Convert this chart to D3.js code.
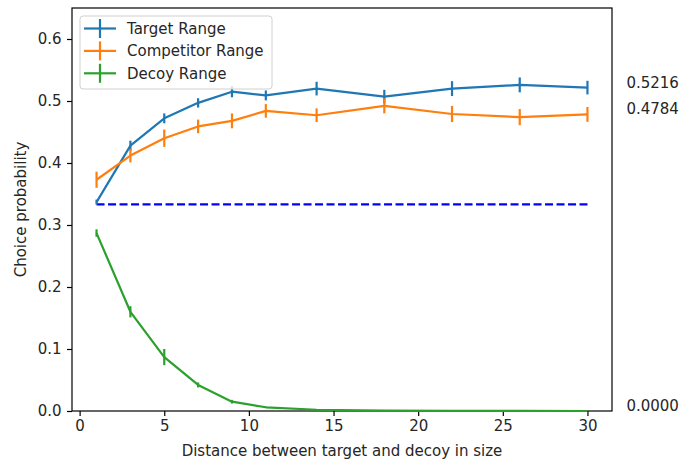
<!DOCTYPE html>
<html lang="en">
<head>
    <meta charset="UTF-8">
    <title>Choice probability vs distance</title>
    <script src="https://d3js.org/d3.v7.min.js"></script>
    <style>
        body { margin: 0; background: white; }
        svg text { font-family: "DejaVu Sans", sans-serif; fill: #262626; }
    </style>
</head>
<body>
<div id="chart"></div>
<script>
    // data
    var distances = [1, 3, 5, 7, 9, 11, 14, 18, 22, 26, 30];
    var targetMean = [0.337, 0.428, 0.472, 0.497, 0.515, 0.509, 0.520, 0.507, 0.520, 0.526, 0.5216];
    var targetErr = [0.004, 0.008, 0.008, 0.0075, 0.009, 0.008, 0.011, 0.011, 0.012, 0.012, 0.011];
    var competitorMean = [0.373, 0.412, 0.440, 0.459, 0.468, 0.484, 0.477, 0.492, 0.479, 0.474, 0.4784];
    var competitorErr = [0.013, 0.011, 0.014, 0.011, 0.012, 0.011, 0.011, 0.012, 0.013, 0.013, 0.012];
    var decoyMean = [0.287, 0.160, 0.087, 0.042, 0.015, 0.006, 0.002, 0.0005, 0.0002, 0.0001, 0.0];
    var decoyErr = [0.006, 0.009, 0.013, 0.004, 0.003, 0.001, 0.001, 0, 0, 0, 0];
    var chanceLevel = 1 / 3;
    var seriesNames = ["Target Range", "Competitor Range", "Decoy Range"];
    var seriesColors = ["#1f77b4", "#ff7f0e", "#2ca02c"];
    var endLabels = ["0.5216", "0.4784", "0.0000"];
    var yTicks = [0, 0.1, 0.2, 0.3, 0.4, 0.5, 0.6];
    var xTicks = [0, 5, 10, 15, 20, 25, 30];

    var margin = {top: 8, right: 67, bottom: 51, left: 72},
        width = 679 - margin.left - margin.right,
        height = 462 - margin.top - margin.bottom;
    var fontSize = 15;

    var svg = d3.select("#chart")
        .append("svg")
        .attr("width", 679)
        .attr("height", 462)
        .append("g")
        .attr("transform", "translate(" + margin.left + "," + margin.top + ")");

    var x = d3.scaleLinear().domain([-0.45, 31.45]).range([0, width]);
    var y = d3.scaleLinear().domain([0, 0.65]).range([height, 0]);

    // axes
    var xAxis = svg.append("g")
        .attr("transform", "translate(0," + height + ")")
        .call(d3.axisBottom(x).tickValues(xTicks).tickSize(5).tickPadding(4.5).tickFormat(d3.format("d")));
    var yAxis = svg.append("g")
        .call(d3.axisLeft(y).tickValues(yTicks).tickSize(5).tickPadding(5.5).tickFormat(d3.format(".1f")));
    [xAxis, yAxis].forEach(function (a) {
        a.select(".domain").remove();
        a.selectAll("line").attr("stroke", "#000").attr("stroke-width", 1.2);
        a.selectAll("text").style("font-size", fontSize + "px").attr("fill", "#262626")
            .style("font-family", "DejaVu Sans, sans-serif");
    });

    // frame
    svg.append("rect")
        .attr("width", width)
        .attr("height", height)
        .attr("fill", "none")
        .attr("stroke", "#000")
        .attr("stroke-width", 1.2);

    // chance line
    svg.append("line")
        .attr("x1", x(distances[0]))
        .attr("x2", x(distances[distances.length - 1]))
        .attr("y1", y(chanceLevel))
        .attr("y2", y(chanceLevel))
        .attr("stroke", "#0000ff")
        .attr("stroke-width", 2.2)
        .attr("stroke-dasharray", "8,3.5");

    var series = [
        {mean: targetMean, err: targetErr},
        {mean: competitorMean, err: competitorErr},
        {mean: decoyMean, err: decoyErr}
    ];

    var line = d3.line()
        .x(function (d) { return x(d[0]); })
        .y(function (d) { return y(d[1]); });

    series.forEach(function (s, i) {
        var pts = distances.map(function (d, j) { return [d, s.mean[j], s.err[j]]; });
        svg.append("path")
            .datum(pts)
            .attr("fill", "none")
            .attr("stroke", seriesColors[i])
            .attr("stroke-width", 2.2)
            .attr("stroke-linejoin", "round")
            .attr("d", line);
        svg.append("g").selectAll("line")
            .data(pts)
            .enter().append("line")
            .attr("x1", function (d) { return x(d[0]); })
            .attr("x2", function (d) { return x(d[0]); })
            .attr("y1", function (d) { return y(d[1] - d[2]); })
            .attr("y2", function (d) { return y(d[1] + d[2]); })
            .attr("stroke", seriesColors[i])
            .attr("stroke-width", 2.2);
        // final value labels
        svg.append("text")
            .attr("x", x(32.3))
            .attr("y", y(s.mean[s.mean.length - 1]))
            .style("font-size", fontSize + "px")
            .text(endLabels[i]);
    });

    // legend
    var legend = svg.append("g").attr("transform", "translate(8,8)");
    legend.append("rect")
        .attr("width", 192)
        .attr("height", 73)
        .attr("rx", 3)
        .attr("fill", "white")
        .attr("fill-opacity", 0.8)
        .attr("stroke", "#d0d0d0")
        .attr("stroke-width", 1);
    seriesNames.forEach(function (name, i) {
        var row = legend.append("g").attr("transform", "translate(0," + (12.5 + i * 22.4) + ")");
        row.append("line").attr("x1", 4).attr("x2", 36)
            .attr("stroke", seriesColors[i]).attr("stroke-width", 2.2);
        row.append("line").attr("x1", 20).attr("x2", 20).attr("y1", -9.5).attr("y2", 9.5)
            .attr("stroke", seriesColors[i]).attr("stroke-width", 2.2);
        row.append("text").attr("x", 47).attr("dy", "0.35em")
            .style("font-size", fontSize + "px").text(name);
    });

    // axis labels
    svg.append("text")
        .attr("transform", "rotate(-90)")
        .attr("x", -height / 2)
        .attr("y", -46)
        .attr("text-anchor", "middle")
        .style("font-size", fontSize + "px")
        .text("Choice probability");
    svg.append("text")
        .attr("x", width / 2)
        .attr("y", height + 45)
        .attr("text-anchor", "middle")
        .style("font-size", fontSize + "px")
        .text("Distance between target and decoy in size");
</script>
</body>
</html>
